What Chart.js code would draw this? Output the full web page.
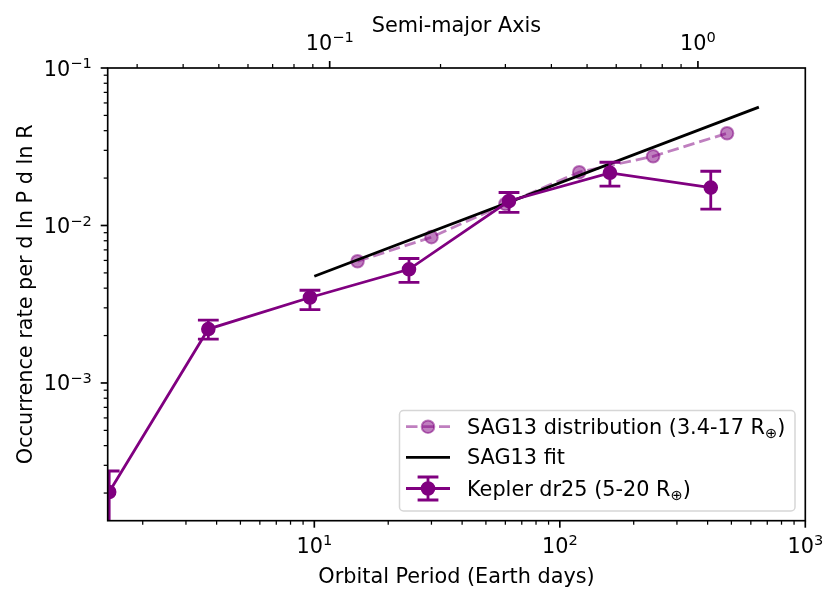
<!DOCTYPE html>
<html>
<head>
<meta charset="utf-8">
<script src="https://cdn.jsdelivr.net/npm/chart.js@4.4.1/dist/chart.umd.min.js"></script>
<style>
  html, body { margin: 0; padding: 0; background: #fff; }
</style>
</head>
<body>
<canvas id="rateChart" width="840" height="603"></canvas>
<script>
// Kepler dr25 (5-20 R_earth), with error bars
const keplerPeriod = [1.46, 3.70, 9.6, 24.3, 62.1, 160, 412];
const keplerRate   = [0.000203, 0.00220, 0.00349, 0.00527, 0.0143, 0.0216, 0.0174];
const keplerLow    = [0.000130, 0.00190, 0.00292, 0.00435, 0.0121, 0.0178, 0.0127];
const keplerHigh   = [0.000276, 0.00251, 0.00388, 0.00617, 0.0162, 0.0252, 0.0221];

// SAG13 distribution (3.4-17 R_earth)
const sagPeriod = [15, 30, 60, 120, 240, 480];
const sagRate   = [0.00593, 0.00843, 0.0137, 0.0218, 0.0275, 0.0385];

// SAG13 fit
const fitPeriod = [10, 647];
const fitRate   = [0.00476, 0.0564];

// axis ranges and labelled ticks
const periodRange = [1.44, 1000];
const rateRange   = [0.0001335, 0.1];
const periodMajor = [10, 100, 1000];
const rateMajor   = [0.001, 0.01, 0.1];
const axisMajor   = [0.1, 1];

const seriesNames = ['SAG13 distribution (3.4-17 R', 'SAG13 fit', 'Kepler dr25 (5-20 R'];

const kepColor = '#800080';
const sagColor = 'rgba(128,0,128,0.5)';
const FONT = '"DejaVu Sans", sans-serif';
const BIG = 20.8, SMALL = 14.6;

// semi-major axis (AU) from period (days)
function semiMajor(p) { return Math.pow(p / 365.25, 2 / 3); }

function toXY(xs, ys) { return xs.map((v, i) => ({ x: v, y: ys[i] })); }

function logTicks(min, max) {
    const out = [];
    for (let k = Math.floor(Math.log10(min)); k <= Math.ceil(Math.log10(max)); k++) {
        for (let m = 1; m <= 9; m++) {
            const v = m * Math.pow(10, k);
            if (v >= min * 0.9999 && v <= max * 1.0001) out.push({ v: v, major: m === 1 });
        }
    }
    return out;
}

function powLabel(ctx, v, x, baseY, align) {
    const exp = Math.round(Math.log10(v));
    const sup = exp < 0 ? '\u2212' + (-exp) : String(exp);
    ctx.font = BIG + 'px ' + FONT;
    const wb = ctx.measureText('10').width;
    ctx.font = SMALL + 'px ' + FONT;
    const ws = ctx.measureText(sup).width;
    let left = x;
    if (align === 'center') left = x - (wb + ws) / 2;
    if (align === 'right') left = x - (wb + ws);
    ctx.textAlign = 'left';
    ctx.textBaseline = 'alphabetic';
    ctx.font = BIG + 'px ' + FONT;
    ctx.fillText('10', left, baseY);
    ctx.font = SMALL + 'px ' + FONT;
    ctx.fillText(sup, left + wb, baseY - 7.3);
}

function drawErrorBars(chart) {
    const ctx = chart.ctx, xs = chart.scales.x, ys = chart.scales.y, a = chart.chartArea;
    ctx.save();
    ctx.beginPath();
    ctx.rect(a.left, a.top, a.right - a.left, a.bottom - a.top);
    ctx.clip();
    ctx.strokeStyle = kepColor;
    ctx.lineWidth = 2.8;
    keplerPeriod.forEach((p, i) => {
        const px = xs.getPixelForValue(p);
        const lo = ys.getPixelForValue(keplerLow[i]);
        const hi = ys.getPixelForValue(keplerHigh[i]);
        ctx.beginPath();
        ctx.moveTo(px, lo); ctx.lineTo(px, hi);
        ctx.moveTo(px - 10.4, lo); ctx.lineTo(px + 10.4, lo);
        ctx.moveTo(px - 10.4, hi); ctx.lineTo(px + 10.4, hi);
        ctx.stroke();
    });
    ctx.restore();
}

function drawAxes(chart) {
    const ctx = chart.ctx, a = chart.chartArea;
    const xs = chart.scales.x, x2 = chart.scales.x2, ys = chart.scales.y;
    ctx.save();
    ctx.strokeStyle = '#000';
    ctx.fillStyle = '#000';

    // ticks, outward
    logTicks(periodRange[0], periodRange[1]).forEach(t => {
        const px = xs.getPixelForValue(t.v);
        ctx.lineWidth = t.major ? 1.67 : 1.25;
        ctx.beginPath(); ctx.moveTo(px, a.bottom); ctx.lineTo(px, a.bottom + (t.major ? 7 : 4)); ctx.stroke();
    });
    logTicks(x2.min, x2.max).forEach(t => {
        const px = x2.getPixelForValue(t.v);
        ctx.lineWidth = t.major ? 1.67 : 1.25;
        ctx.beginPath(); ctx.moveTo(px, a.top); ctx.lineTo(px, a.top - (t.major ? 7 : 4)); ctx.stroke();
    });
    logTicks(rateRange[0], rateRange[1]).forEach(t => {
        const py = ys.getPixelForValue(t.v);
        ctx.lineWidth = t.major ? 1.67 : 1.25;
        ctx.beginPath(); ctx.moveTo(a.left, py); ctx.lineTo(a.left - (t.major ? 7 : 4), py); ctx.stroke();
    });

    // spines
    ctx.lineWidth = 1.67;
    ctx.strokeRect(a.left, a.top, a.right - a.left, a.bottom - a.top);

    // tick labels
    periodMajor.forEach(v => powLabel(ctx, v, xs.getPixelForValue(v), a.bottom + 32, 'center'));
    axisMajor.forEach(v => powLabel(ctx, v, x2.getPixelForValue(v), a.top - 18.5, 'center'));
    rateMajor.forEach(v => powLabel(ctx, v, a.left - 16, ys.getPixelForValue(v) + 7.5, 'right'));

    // axis titles
    const cx = (a.left + a.right) / 2, cy = (a.top + a.bottom) / 2;
    ctx.font = BIG + 'px ' + FONT;
    ctx.textAlign = 'center';
    ctx.textBaseline = 'alphabetic';
    ctx.fillText('Orbital Period (Earth days)', cx, 583);
    ctx.fillText('Semi-major Axis', cx, 32);
    ctx.translate(31.7, cy);
    ctx.rotate(-Math.PI / 2);
    ctx.fillText('Occurrence rate per d ln P d ln R', 0, 0);
    ctx.restore();
}

function legendText(ctx, label, x, y, withEarth) {
    ctx.font = BIG + 'px ' + FONT;
    ctx.textAlign = 'left';
    ctx.fillText(label, x, y);
    if (!withEarth) return;
    let w = ctx.measureText(label).width;
    ctx.font = SMALL + 'px ' + FONT;
    ctx.fillText('\u2295', x + w, y + 4);
    w += ctx.measureText('\u2295').width;
    ctx.font = BIG + 'px ' + FONT;
    ctx.fillText(')', x + w, y);
}

function drawLegend(chart) {
    const ctx = chart.ctx;
    const l = 399.5, t = 410.5, r = 795, b = 511, rad = 4;
    ctx.save();
    ctx.beginPath();
    ctx.moveTo(l + rad, t);
    ctx.arcTo(r, t, r, b, rad);
    ctx.arcTo(r, b, l, b, rad);
    ctx.arcTo(l, b, l, t, rad);
    ctx.arcTo(l, t, r, t, rad);
    ctx.closePath();
    ctx.fillStyle = 'rgba(255,255,255,0.8)';
    ctx.fill();
    ctx.strokeStyle = 'rgba(204,204,204,0.8)';
    ctx.lineWidth = 1.5;
    ctx.stroke();

    const rows = [426.7, 457.3, 488.5];
    const x0 = 406, x1 = 450, xm = 428, tx = 467;

    // SAG13 distribution
    ctx.strokeStyle = sagColor;
    ctx.lineWidth = 2.8;
    ctx.setLineDash([11.5, 5]);
    ctx.beginPath(); ctx.moveTo(x0, rows[0]); ctx.lineTo(x1, rows[0]); ctx.stroke();
    ctx.setLineDash([]);
    ctx.fillStyle = sagColor;
    ctx.lineWidth = 2;
    ctx.beginPath(); ctx.arc(xm, rows[0], 6.3, 0, Math.PI * 2); ctx.fill(); ctx.stroke();

    // SAG13 fit
    ctx.strokeStyle = '#000';
    ctx.lineWidth = 2.8;
    ctx.beginPath(); ctx.moveTo(x0, rows[1]); ctx.lineTo(x1, rows[1]); ctx.stroke();

    // Kepler
    ctx.strokeStyle = kepColor;
    ctx.beginPath();
    ctx.moveTo(x0, rows[2]); ctx.lineTo(x1, rows[2]);
    ctx.moveTo(xm, rows[2] - 11.5); ctx.lineTo(xm, rows[2] + 11.5);
    ctx.moveTo(xm - 10.4, rows[2] - 11.5); ctx.lineTo(xm + 10.4, rows[2] - 11.5);
    ctx.moveTo(xm - 10.4, rows[2] + 11.5); ctx.lineTo(xm + 10.4, rows[2] + 11.5);
    ctx.stroke();
    ctx.fillStyle = kepColor;
    ctx.lineWidth = 2;
    ctx.beginPath(); ctx.arc(xm, rows[2], 6.3, 0, Math.PI * 2); ctx.fill(); ctx.stroke();

    ctx.fillStyle = '#000';
    ctx.textBaseline = 'alphabetic';
    legendText(ctx, seriesNames[0], tx, rows[0] + 7, true);
    legendText(ctx, seriesNames[1], tx, rows[1] + 7, false);
    legendText(ctx, seriesNames[2], tx, rows[2] + 7, true);
    ctx.restore();
}

const mplPlugin = {
    id: 'mplLook',
    afterDatasetsDraw(chart) { drawErrorBars(chart); },
    afterDraw(chart) { drawAxes(chart); drawLegend(chart); }
};

new Chart(document.getElementById('rateChart'), {
    type: 'line',
    data: {
        datasets: [
            {
                label: 'Kepler dr25 (5-20 R\u2295)',
                data: toXY(keplerPeriod, keplerRate),
                borderColor: kepColor,
                backgroundColor: kepColor,
                borderWidth: 2.8,
                pointRadius: 6.3,
                pointBorderWidth: 2,
                pointBackgroundColor: kepColor,
                pointBorderColor: kepColor,
                tension: 0,
                clip: 0,
                order: 0
            },
            {
                label: 'SAG13 fit',
                data: toXY(fitPeriod, fitRate),
                borderColor: '#000',
                borderWidth: 2.8,
                pointRadius: 0,
                tension: 0,
                clip: 0,
                order: 1
            },
            {
                label: 'SAG13 distribution (3.4-17 R\u2295)',
                data: toXY(sagPeriod, sagRate),
                borderColor: sagColor,
                backgroundColor: sagColor,
                borderWidth: 2.8,
                borderDash: [11.5, 5],
                pointRadius: 6.3,
                pointBorderWidth: 2,
                pointBackgroundColor: sagColor,
                pointBorderColor: sagColor,
                tension: 0,
                clip: 0,
                order: 2
            }
        ]
    },
    options: {
        responsive: false,
        animation: false,
        layout: { padding: { left: 107.7, right: 34.7, top: 68, bottom: 82.3 } },
        plugins: { legend: { display: false }, tooltip: { enabled: false } },
        scales: {
            x: { type: 'logarithmic', display: false, min: periodRange[0], max: periodRange[1] },
            x2: { type: 'logarithmic', display: false, position: 'top',
                  min: semiMajor(periodRange[0]), max: semiMajor(periodRange[1]) },
            y: { type: 'logarithmic', display: false, min: rateRange[0], max: rateRange[1] }
        }
    },
    plugins: [mplPlugin]
});
</script>
</body>
</html>
